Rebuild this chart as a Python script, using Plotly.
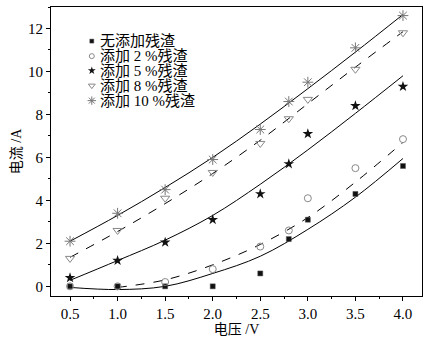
import plotly.graph_objects as go

# measured points
x_pts = [0.5, 1.0, 1.5, 2.0, 2.5, 2.8, 3.0, 3.5, 4.0]
y_none = [0.0, 0.0, 0.0, 0.0, 0.6, 2.2, 3.1, 4.3, 5.6]
y_2 = [0.0, 0.0, 0.2, 0.8, 1.85, 2.6, 4.1, 5.5, 6.85]
y_5 = [0.4, 1.2, 2.05, 3.1, 4.3, 5.7, 7.1, 8.4, 9.3]
y_8 = [1.3, 2.6, 4.1, 5.3, 6.65, 7.8, 8.7, 10.1, 11.8]
y_10 = [2.1, 3.4, 4.5, 5.9, 7.3, 8.6, 9.5, 11.1, 12.6]

# fitted curves
xf = [0.5, 1.0, 1.5, 2.0, 2.5, 3.0, 3.5, 4.0]
f_none = [-0.05, -0.15, 0.0, 0.6, 1.4, 2.65, 4.15, 5.95]
xf2 = [1.0, 1.5, 2.0, 2.5, 3.0, 3.5, 4.0]
f_2 = [-0.05, 0.3, 1.0, 1.95, 3.2, 4.85, 6.7]
f_5 = [0.28, 1.2, 2.15, 3.3, 4.75, 6.35, 8.05, 9.8]
f_8 = [1.35, 2.55, 3.85, 5.25, 6.8, 8.5, 10.2, 11.85]
f_10 = [2.1, 3.3, 4.6, 6.0, 7.55, 9.2, 10.9, 12.65]

names = ["无添加残渣", "添加 2 %残渣", "添加 5 %残渣", "添加 8 %残渣", "添加 10 %残渣"]

FONT = "Liberation Serif, Times New Roman, serif"
CJK_FONT = "Liberation Serif, Noto Sans CJK SC, serif"

fig = go.Figure()

curves = [(xf, f_none, "solid"), (xf2, f_2, "dash"), (xf, f_5, "solid"),
          (xf, f_8, "dash"), (xf, f_10, "solid")]
for xs, ys, dash in curves:
    fig.add_trace(go.Scatter(x=xs, y=ys, mode="lines",
                             line=dict(color="black", width=1, dash=dash, shape="spline"),
                             showlegend=False, hoverinfo="skip"))

markers = [
    dict(symbol="square", size=5, color="#111111", line=dict(color="#555", width=0.5)),
    dict(symbol="circle-open", size=7, color="#888888", line=dict(width=1)),
    dict(symbol="star", size=8, color="#111111", line=dict(width=0)),
    dict(symbol="triangle-down-open", size=8, color="#888888", line=dict(width=1)),
    dict(symbol="asterisk-open", size=9, color="#777777", line=dict(width=1)),
]
series = [y_none, y_2, y_5, y_8, y_10]
for ys, mk, nm in zip(series, markers, names):
    fig.add_trace(go.Scatter(x=x_pts, y=ys, mode="markers", marker=mk, name=nm, showlegend=False))

# legend: key symbols on an overlay unit axis plus text annotations
leg_y = [0.882, 0.830, 0.780, 0.728, 0.676]
leg_sx = 0.11
for i, (mk, nm) in enumerate(zip(markers, names)):
    m = dict(mk)
    m["size"] = max(mk["size"] - 2, 4)
    fig.add_trace(go.Scatter(x=[leg_sx], y=[leg_y[i]], xaxis="x2", yaxis="y2", mode="markers",
                             marker=m, showlegend=False, hoverinfo="skip"))
    fig.add_annotation(x=0.128, y=leg_y[i], xref="paper", yref="paper", text=nm, showarrow=False,
                       xanchor="left", yanchor="middle",
                       font=dict(family=CJK_FONT, size=15, color="black"))

axis_common = dict(showline=True, linecolor="black", linewidth=1, mirror=True, showgrid=False, zeroline=False,
                   ticks="outside", ticklen=4, tickcolor="black", automargin=False,
                   tickfont=dict(family=FONT, size=15, color="black"))

fig.update_xaxes(range=[0.3, 4.2], tick0=0.5, dtick=0.5, tickformat=".1f",
                 minor=dict(ticks="outside", ticklen=2, dtick=0.25, tick0=0.25, tickcolor="black"),
                 title=dict(text="电压 /V", font=dict(family=CJK_FONT, size=14, color="black"), standoff=2),
                 **axis_common)
fig.update_yaxes(range=[-0.45, 13], tick0=0, dtick=2,
                 minor=dict(ticks="outside", ticklen=2, dtick=1, tickcolor="black"),
                 title=dict(text="电流 /A", font=dict(family=CJK_FONT, size=14, color="black"), standoff=3),
                 **axis_common)

fig.update_layout(
    width=432, height=337,
    margin=dict(l=51, r=10, t=7, b=41),
    paper_bgcolor="white", plot_bgcolor="white",
    font=dict(family=FONT, color="black"),
    showlegend=False,
    xaxis2=dict(overlaying="x", range=[0, 1], visible=False, anchor="y2"),
    yaxis2=dict(overlaying="y", range=[0, 1], visible=False, anchor="x2"),
)

fig.write_html("out.html", config={"displayModeBar": False},
               post_script="document.body.style.margin='0';document.body.style.padding='0';")
